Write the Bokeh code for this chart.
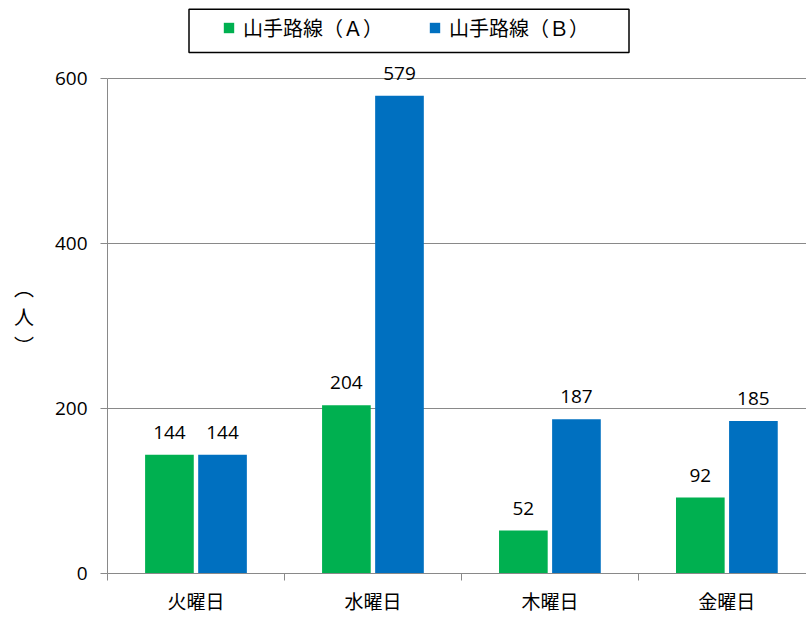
from bokeh.plotting import figure
from bokeh.models import (Range1d, FixedTicker, ColumnDataSource, LabelSet, Legend,
                          LegendItem, BoxAnnotation)
from bokeh.embed import file_html
from bokeh.resources import INLINE
from bokeh.core.properties import value

days = ["火曜日", "水曜日", "木曜日", "金曜日"]
series_a = [144, 204, 52, 92]
series_b = [144, 579, 187, 185]
series_names = ["山手路線（Ａ）", "山手路線（Ｂ）"]
y_ticks = [0, 200, 400, 600]
y_unit_chars = ["︵", "人", "︶"]

GREEN = "#00B050"
BLUE = "#0070C0"
GRAY = "#898989"
NUM = value("Open Sans")

W, H = 806, 618
FRAME_TOP = 0
FRAME_BOTTOM = 573
Y_MAX = 600
Y_TOP_PX = 78
# extend the y range upward so that legend and labels lie inside the frame
y_end = Y_MAX * (FRAME_BOTTOM - FRAME_TOP) / (FRAME_BOTTOM - Y_TOP_PX)

p = figure(width=W, height=H, output_backend="svg", toolbar_location=None,
           x_range=Range1d(0, 3.95), y_range=Range1d(0, y_end),
           min_border_left=107, min_border_right=0, min_border_top=0,
           min_border_bottom=H - FRAME_BOTTOM)
p.outline_line_color = None
p.background_fill_color = "white"
p.border_fill_color = "white"

centers = [i + 0.5 for i in range(len(days))]
off = 0.15
bw = 0.275
src_a = ColumnDataSource(dict(x=[c - off for c in centers], top=series_a,
                              t=[str(v) for v in series_a]))
src_b = ColumnDataSource(dict(x=[c + off for c in centers], top=series_b,
                              t=[str(v) for v in series_b]))
ra = p.vbar(x="x", top="top", width=bw, bottom=0, source=src_a,
            fill_color=GREEN, line_color=None)
rb = p.vbar(x="x", top="top", width=bw, bottom=0, source=src_b,
            fill_color=BLUE, line_color=None)

for src in (src_a, src_b):
    p.add_layout(LabelSet(x="x", y="top", text="t", source=src, y_offset=16,
                          text_align="center", text_baseline="alphabetic",
                          text_font=NUM, text_font_size="19px",
                          text_color="#000000"))

# x axis
xa = p.xaxis[0]
xa.ticker = FixedTicker(ticks=centers, minor_ticks=list(range(len(days))))
xa.major_label_overrides = {c: d for c, d in zip(centers, days)}
xa.major_tick_out = 0
xa.major_tick_in = 0
xa.minor_tick_out = 7
xa.minor_tick_in = 0
xa.minor_tick_line_color = GRAY
xa.axis_line_color = GRAY
xa.major_label_standoff = 6
xa.major_label_text_font = "Noto Sans CJK JP"
xa.major_label_text_font_size = "19px"
xa.major_label_text_color = "#000000"

# y axis
ya = p.yaxis[0]
ya.bounds = (0, Y_MAX)
ya.ticker = FixedTicker(ticks=y_ticks, minor_ticks=[])
ya.major_tick_out = 7
ya.major_tick_in = 0
ya.major_tick_line_color = GRAY
ya.axis_line_color = GRAY
ya.major_label_standoff = 13
ya.major_label_text_font = "Open Sans"
ya.major_label_text_font_size = "19px"
ya.major_label_text_color = "#000000"
# vertical writing; leading empty lines push the label down to the plot's middle
ya.axis_label = "\n" * 2 + "\n".join(y_unit_chars)
ya.axis_label_orientation = "horizontal"
ya.axis_label_standoff = 18
ya.axis_label_text_font = "Noto Sans CJK JP"
ya.axis_label_text_font_size = "20px"
ya.axis_label_text_font_style = "normal"
ya.axis_label_text_color = "#000000"
ya.axis_label_text_line_height = 1.0

p.xgrid.visible = False
p.ygrid.ticker = FixedTicker(ticks=y_ticks)
p.ygrid.grid_line_color = GRAY
p.ygrid.grid_line_width = 1

# legend box
p.add_layout(BoxAnnotation(left=188.5, right=628.5, top=8.75, bottom=52,
                           left_units="canvas", right_units="canvas",
                           top_units="canvas", bottom_units="canvas",
                           fill_color=None, line_color="#000000",
                           line_width=1.5, line_alpha=1))

legend = Legend(items=[LegendItem(label=series_names[0], renderers=[ra]),
                       LegendItem(label=series_names[1], renderers=[rb])],
                orientation="horizontal", location=(115, 531),
                glyph_width=13, glyph_height=13, label_standoff=8,
                spacing=45, padding=0, label_width=140, label_height=24,
                border_line_color=None, background_fill_alpha=0,
                label_text_font="Noto Sans CJK JP", label_text_font_size="20px",
                label_text_color="#000000")
p.add_layout(legend, "center")

open("out.html", "w").write(file_html(p, INLINE))
